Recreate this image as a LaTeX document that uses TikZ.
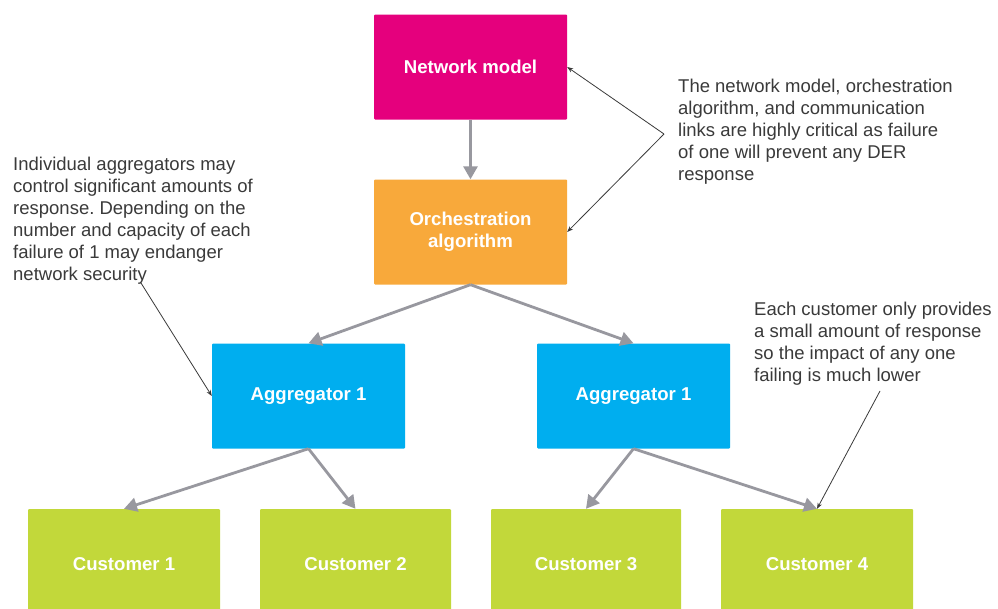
\documentclass[tikz,border=0pt]{standalone}
\usepackage{fontspec}
\setmainfont{Liberation Sans}
\usetikzlibrary{arrows.meta}
\definecolor{cmag}{HTML}{E5007D}
\definecolor{corange}{HTML}{F8A93B}
\definecolor{cblue}{HTML}{00AEEF}
\definecolor{cgreen}{HTML}{C2D83A}
\definecolor{cgrayarrow}{HTML}{98989F}
\definecolor{cnote}{HTML}{3A3A3A}
\tikzset{
  box/.style={rectangle, rounded corners=1pt, minimum width=193pt, minimum height=105pt,
    inner sep=0pt, text=white, font=\fontsize{18.6}{22}\selectfont\bfseries, align=center},
  flow/.style={draw=cgrayarrow, line width=2.8pt, -{Triangle[length=13pt,width=14pt]}, shorten >=0pt},
  note/.style={anchor=north west, inner sep=0pt, text=cnote, align=left,
    font=\fontsize{18.5}{22}\selectfont},
  pointer/.style={draw=cnote, line width=0.8pt, -{Stealth[length=6pt,width=4.5pt]}}
}
\frenchspacing
\begin{document}
\begin{tikzpicture}[x=1pt,y=-1pt]
\clip (0,0) rectangle (998,608);
\fill[white] (0,0) rectangle (998,608);
% boxes
\node[box, fill=cmag] (nm) at (470.5,67) {Network model};
\node[box, fill=corange] (oa) at (470.5,232) {Orchestration\\algorithm};
\node[box, fill=cblue] (ag1) at (308.5,396) {Aggregator 1};
\node[box, fill=cblue] (ag2) at (633.5,396) {Aggregator 1};
\node[box, fill=cgreen, minimum width=192pt, minimum height=110pt] (c1) at (124,564) {Customer 1};
\node[box, fill=cgreen, minimum width=191pt, minimum height=110pt] (c2) at (355.5,564) {Customer 2};
\node[box, fill=cgreen, minimum width=190pt, minimum height=110pt] (c3) at (586,564) {Customer 3};
\node[box, fill=cgreen, minimum width=192pt, minimum height=110pt] (c4) at (817,564) {Customer 4};
% flow arrows
\draw[flow] (nm.south) -- (oa.north);
\draw[flow] (oa.south) -- (ag1.north);
\draw[flow] (oa.south) -- (ag2.north);
\draw[flow] (ag1.south) -- (c1.north);
\draw[flow] (ag1.south) -- (c2.north);
\draw[flow] (ag2.south) -- (c3.north);
\draw[flow] (ag2.south) -- (c4.north);
% notes
\node[note] (n1) at (678,79) {The network model, orchestration\\algorithm, and communication\\links are highly critical as failure\\of one will prevent any DER\\response};
\node[note] (n2) at (13,157) {Individual aggregators may\\control significant amounts of\\response. Depending on the\\number and capacity of each\\failure of 1 may endanger\\network security};
\node[note] (n3) at (754,302) {Each customer only provides\\a small amount of response\\so the impact of any one\\failing is much lower};
% pointers
\coordinate (v1) at (664,134);
\coordinate (p2) at (141,283);
\coordinate (p3) at (880,391);
\draw[pointer] (v1) -- (nm.east);
\draw[pointer] (v1) -- (oa.east);
\draw[pointer] (p2) -- (ag1.west);
\draw[pointer] (p3) -- (c4.north);
\end{tikzpicture}
\end{document}
